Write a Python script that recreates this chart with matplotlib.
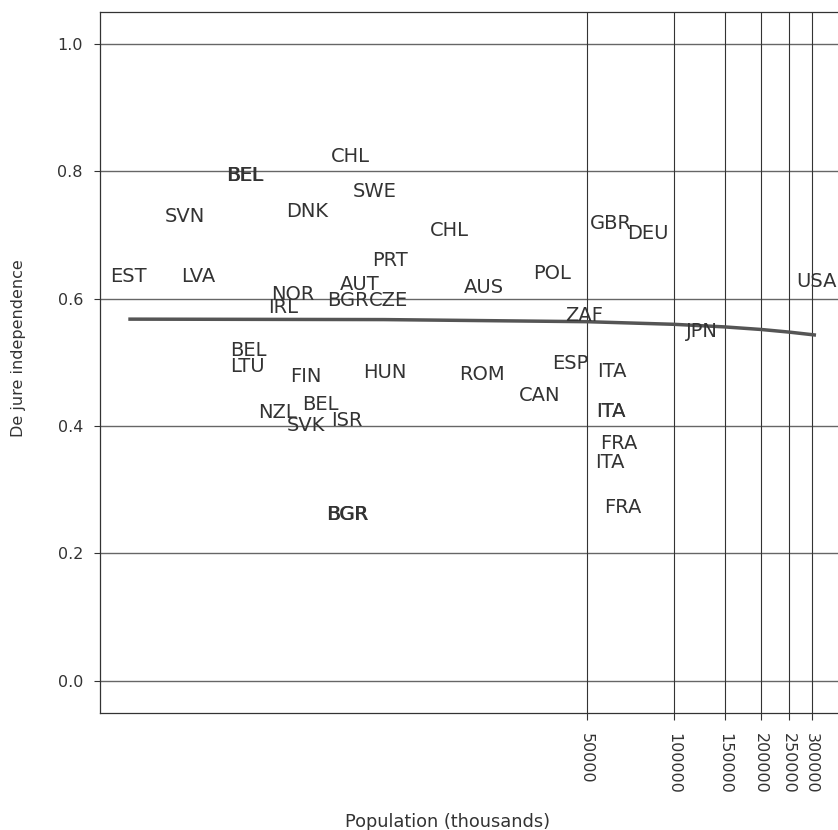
import matplotlib
matplotlib.use("Agg")
import matplotlib.pyplot as plt
from matplotlib.ticker import FixedLocator, NullLocator, FixedFormatter

# country labels, population (thousands) and de jure independence
countries = ["EST", "LVA", "SVN", "BEL", "BEL", "CHL", "SWE", "DNK", "PRT",
             "AUT", "BGR", "CZE", "NOR", "IRL", "CHL", "AUS", "POL", "GBR",
             "DEU", "ZAF", "USA", "JPN", "BEL", "LTU", "FIN", "HUN", "ROM",
             "ESP", "CAN", "ITA", "ITA", "ITA", "NZL", "BEL", "SVK", "ISR",
             "FRA", "ITA", "FRA", "BGR", "BGR"]
population = [1304, 2283, 2053, 3291, 3300, 7620, 9240, 5400, 10480,
              8254, 7500, 10360, 4843, 4486, 16800, 22140, 38030, 60560,
              81290, 49050, 310500, 125600, 3400, 3370, 5339, 10070, 21700,
              44060, 34340, 61250, 60760, 60800, 4260, 5993, 5380, 7420,
              64760, 60330, 66830, 7430, 7480]
independence = [0.6375, 0.6375, 0.7317, 0.7968, 0.7968, 0.8258, 0.7709, 0.7395, 0.6630,
                0.6258, 0.6007, 0.6007, 0.6098, 0.5884, 0.7100, 0.6207, 0.6427, 0.7212,
                0.7047, 0.5767, 0.6297, 0.5512, 0.5217, 0.4963, 0.4806, 0.4874, 0.4842,
                0.5015, 0.4516, 0.4880, 0.4257, 0.4257, 0.4241, 0.4362, 0.4041, 0.4124,
                0.3755, 0.3457, 0.2754, 0.2636, 0.2636]

# fitted line
fit_pop = [1304, 10000, 50000, 100000, 150000, 200000, 250000, 310500]
fit_val = [0.5677, 0.5670, 0.5637, 0.5596, 0.5555, 0.5515, 0.5474, 0.5426]

xticks = [50000, 100000, 150000, 200000, 250000, 300000]
yticks = [0.0, 0.2, 0.4, 0.6, 0.8, 1.0]

W, H = 838, 830
fig = plt.figure(figsize=(W / 100, H / 100), dpi=100)
ax = fig.add_axes([100 / W, 1 - 712.5 / H, 1 - 100 / W, (712.5 - 12) / H])

ax.set_xscale("log")
ax.set_xlim(1041, 369900)
ax.set_ylim(-0.05, 1.05)

# grid
for yv in yticks:
    ax.axhline(yv, color="#666666", lw=1.0, zorder=1)
for xv in xticks:
    ax.axvline(xv, color="#333333", lw=0.8, zorder=1)

ax.plot(fit_pop, fit_val, color="#555555", lw=2.5, solid_capstyle="butt", zorder=3)

for name, p, v in zip(countries, population, independence):
    ax.text(p, v, name, ha="center", va="center_baseline", fontsize=14,
            color="#333333", zorder=4)

ax.xaxis.set_major_locator(FixedLocator(xticks))
ax.xaxis.set_major_formatter(FixedFormatter([str(t) for t in xticks]))
ax.xaxis.set_minor_locator(NullLocator())
ax.set_yticks(yticks)
ax.set_yticklabels([f"{t:.1f}" for t in yticks])

ax.tick_params(axis="x", length=5, width=0.8, color="#333333", pad=10,
               labelsize=11.5, labelcolor="#333333", labelrotation=-90)
ax.tick_params(axis="y", length=4.3, width=0.8, color="#333333", pad=8,
               labelsize=11.5, labelcolor="#333333")

for side in ["left", "top", "bottom"]:
    ax.spines[side].set_color("#333333")
    ax.spines[side].set_linewidth(0.9)
ax.spines["right"].set_visible(False)

fig.text(18.5 / W, 1 - 348 / H, "De jure independence", rotation=90,
         ha="center", va="center", fontsize=11.5, color="#333333")
fig.text(448 / W, 1 - 827 / H, "Population (thousands)", ha="center",
         va="baseline", fontsize=12.8, color="#333333")

fig.savefig("out.png", dpi=100)
